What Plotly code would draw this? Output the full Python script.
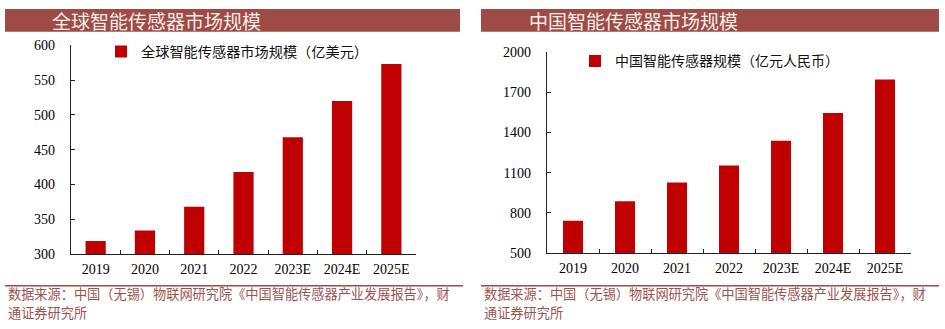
import plotly.graph_objects as go

years = ["2019", "2020", "2021", "2022", "2023E", "2024E", "2025E"]
global_vals = [319, 334, 368, 418, 468, 520, 573]
china_vals = [742, 888, 1026, 1154, 1338, 1545, 1794]

left_title = "全球智能传感器市场规模"
right_title = "中国智能传感器市场规模"
left_legend = "全球智能传感器市场规模（亿美元）"
right_legend = "中国智能传感器规模（亿元人民币）"
source_l1 = "数据来源：中国（无锡）物联网研究院《中国智能传感器产业发展报告》，财"
source_l2 = "通证券研究所"
left_yticks = [300, 350, 400, 450, 500, 550, 600]
right_yticks = [500, 800, 1100, 1400, 1700, 2000]

W, H = 945, 329
BAR = "#C00000"
BAND = "#9E4B45"
CJK = "Noto Sans CJK SC"
SERIF = "Liberation Serif"

def px(x):
    return x / W

def py(y):
    return 1 - y / H

fig = go.Figure()
fig.add_trace(go.Bar(x=years, y=global_vals, name=left_legend, marker_color=BAR,
                     marker_line_width=0, width=0.41, xaxis="x", yaxis="y",
                     legend="legend"))
fig.add_trace(go.Bar(x=years, y=china_vals, name=right_legend, marker_color=BAR,
                     marker_line_width=0, width=0.385, xaxis="x2", yaxis="y2",
                     legend="legend2"))

axis_common = dict(showline=True, linecolor="#222222", linewidth=1.3,
                   ticks="inside", ticklen=4, tickcolor="#222222",
                   showgrid=False, zeroline=False,
                   tickfont=dict(family=SERIF, size=14, color="#000000"))

fig.update_layout(
    width=W, height=H,
    margin=dict(l=0, r=0, t=0, b=0),
    paper_bgcolor="white", plot_bgcolor="white",
    xaxis=dict(domain=[px(71), px(416)], anchor="y", tickson="boundaries",
               ticklabelstandoff=2, **axis_common),
    yaxis=dict(domain=[py(259), py(40)], anchor="x", range=[300, 600],
               tickvals=left_yticks, ticklabelstandoff=12, **axis_common),
    xaxis2=dict(domain=[px(547), px(911)], anchor="y2", tickson="boundaries",
                ticklabelstandoff=2, **axis_common),
    yaxis2=dict(domain=[py(258), py(47)], anchor="x2", range=[500, 2000],
                tickvals=right_yticks, ticklabelstandoff=12, **axis_common),
    legend=dict(x=px(101), y=py(47), xanchor="left", yanchor="middle",
                font=dict(family=CJK, size=14.2, color="#111111"),
                bgcolor="rgba(0,0,0,0)", itemwidth=30),
    legend2=dict(x=px(575), y=py(57), xanchor="left", yanchor="middle",
                 font=dict(family=CJK, size=14, color="#111111"),
                 bgcolor="rgba(0,0,0,0)", itemwidth=30),
    showlegend=True,
)

shapes = []
for x0, x1 in [(5, 460), (481, 939)]:
    shapes.append(dict(type="rect", xref="paper", yref="paper",
                       x0=px(x0), x1=px(x1), y0=py(26), y1=py(2),
                       fillcolor=BAND, line_width=0, layer="below"))
for x0, x1 in [(5, 463), (481, 939)]:
    shapes.append(dict(type="line", xref="paper", yref="paper",
                       x0=px(x0), x1=px(x1), y0=py(292), y1=py(292),
                       line=dict(color=BAND, width=1.5)))
fig.update_layout(shapes=shapes)

ann = []
for x, t in [(50, left_title), (527, right_title)]:
    ann.append(dict(text=t, xref="paper", yref="paper", x=px(x), y=py(14),
                    xanchor="left", yanchor="middle", showarrow=False,
                    font=dict(family=CJK, size=19, color="#F7EDEB")))
for x in [6, 482]:
    for yy, t in [(300.5, source_l1), (320, source_l2)]:
        ann.append(dict(text=t, xref="paper", yref="paper", x=px(x), y=py(yy),
                        xanchor="left", yanchor="middle", showarrow=False,
                        font=dict(family=CJK, size=13.2, color="#A0524D")))
fig.update_layout(annotations=ann)

fig.write_html("out.html")
